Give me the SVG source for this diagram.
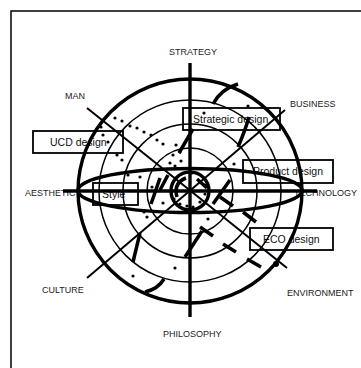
<svg xmlns="http://www.w3.org/2000/svg" width="361" height="368" viewBox="0 0 361 368">
<style>
.lbl{font-family:"Liberation Sans",Arial,sans-serif;font-size:9px;fill:#222}
.bt{font-family:"Liberation Sans",Arial,sans-serif;font-size:10.5px;fill:#111}
.box{fill:none;stroke:#000;stroke-width:1.8}
.thin{fill:none;stroke:#000;stroke-width:1.5}
.thick{fill:none;stroke:#000;stroke-width:3.4}
.diag{fill:none;stroke:#000;stroke-width:2}
.mark{fill:none;stroke:#000;stroke-width:3.5}
.dot{fill:#000}
</style>
<rect x="11" y="11" width="360" height="370" fill="none" stroke="#000" stroke-width="1.5"/>
<g id="labels">
<g id="strategy"><text class="lbl" x="193" y="54.5" text-anchor="middle">STRATEGY</text></g>
<g id="man"><text class="lbl" x="75" y="98.5" text-anchor="middle">MAN</text></g>
<g id="business"><text class="lbl" x="290" y="106.5">BUSINESS</text></g>
<g id="aesthetic"><text class="lbl" x="25" y="195.5">AESTHETIC</text></g>
<g id="technology"><text class="lbl" x="357" y="196" text-anchor="end">TECHNOLOGY</text></g>
<g id="culture"><text class="lbl" x="42" y="292.5">CULTURE</text></g>
<g id="environment"><text class="lbl" x="287" y="296">ENVIRONMENT</text></g>
<g id="philosophy"><text class="lbl" x="163" y="336.5">PHILOSOPHY</text></g>
</g>
<g id="nodes">
<g id="ucd"><rect class="box" x="33" y="131" width="90" height="22"/><text class="bt" x="50" y="146">UCD design</text></g>
<g id="strategic"><rect class="box" x="183" y="108" width="97" height="22"/><text class="bt" x="193" y="122.5">Strategic design</text></g>
<g id="product"><rect class="box" x="243" y="160" width="90" height="23"/><text class="bt" x="253" y="175">Product design</text></g>
<g id="eco"><rect class="box" x="250" y="228" width="83" height="22"/><text class="bt" x="263" y="242.5">ECO design</text></g>
<g id="style"><rect class="box" x="93" y="183" width="45" height="22"/><text class="bt" x="102" y="197.5">Style</text></g>
</g>
<g id="connectors">
<circle class="thick" cx="190" cy="191" r="112"/>
<circle class="thin" cx="190" cy="191" r="91"/>
<circle class="thin" cx="190" cy="191" r="67"/>
<circle class="thin" cx="190" cy="191" r="43"/>
<circle class="thick" cx="190" cy="191" r="19" stroke-width="3"/>
<ellipse class="thick" cx="190" cy="190.5" rx="112" ry="22" stroke-width="3"/>
<line class="thick" x1="190" y1="63" x2="190" y2="317" stroke-width="3"/>
<line class="thick" x1="63" y1="191" x2="317" y2="191" stroke-width="3"/>
<line class="diag" x1="87" y1="108" x2="287" y2="268"/>
<line class="diag" x1="87" y1="278" x2="285" y2="110"/>
<g class="mark">
<path d="M213,104 Q221,89 238,84"/>
<path d="M249,117 Q245,131 238,147"/>
<path d="M193,129 L179,153"/>
<path d="M140,233 L133,262"/>
<path d="M145,292 Q158,289 164,279"/>
<path d="M185,257 L202,231"/>
<path d="M200,227 L213,236"/>
<path d="M223,244 L236,252"/>
<path d="M247,259 L261,267"/>
<path d="M243,212 L256,222"/>
<path d="M220,197 L233,206"/>
<path d="M213,204 L230,180"/>
<path d="M168,175 L160,190"/>
<path d="M160,178 L151,204"/>
<path d="M197,179 L207,188"/>
<path d="M186,178 Q173,183 177,197"/>
</g>
<circle class="dot" cx="276" cy="264" r="3"/>
<g class="dot">
<circle cx="115" cy="118" r="1.6"/><circle cx="122" cy="121" r="1.6"/><circle cx="130" cy="126" r="1.6"/><circle cx="137" cy="128" r="1.6"/>
<circle cx="144" cy="132" r="1.6"/><circle cx="151" cy="135" r="1.6"/><circle cx="157" cy="140" r="1.6"/><circle cx="163" cy="144" r="1.6"/>
<circle cx="101" cy="127" r="1.6"/><circle cx="103" cy="135" r="1.6"/><circle cx="108" cy="142" r="1.6"/><circle cx="117" cy="155" r="1.6"/>
<circle cx="122" cy="160" r="1.6"/><circle cx="128" cy="175" r="1.6"/><circle cx="140" cy="177" r="1.6"/>
<circle cx="176" cy="145" r="1.6"/><circle cx="180" cy="152" r="1.6"/><circle cx="173" cy="155" r="1.6"/><circle cx="170" cy="163" r="1.6"/>
<circle cx="181" cy="161" r="1.6"/><circle cx="175" cy="166" r="1.6"/>
<circle cx="192" cy="173" r="1.6"/><circle cx="205" cy="185" r="1.6"/><circle cx="205" cy="194" r="1.6"/><circle cx="200" cy="202" r="1.6"/>
<circle cx="193" cy="207" r="1.6"/><circle cx="187" cy="206" r="1.6"/><circle cx="180" cy="204" r="1.6"/><circle cx="174" cy="199" r="1.6"/>
<circle cx="152" cy="187" r="1.6"/><circle cx="163" cy="203" r="1.6"/><circle cx="147" cy="217" r="1.6"/><circle cx="144" cy="212" r="1.6"/>
<circle cx="204" cy="113" r="1.6"/><circle cx="248" cy="106" r="1.6"/><circle cx="234" cy="164" r="1.6"/><circle cx="208" cy="219" r="1.6"/>
<circle cx="175" cy="268" r="1.6"/><circle cx="133" cy="276" r="1.6"/>
</g>
</g>
</svg>
